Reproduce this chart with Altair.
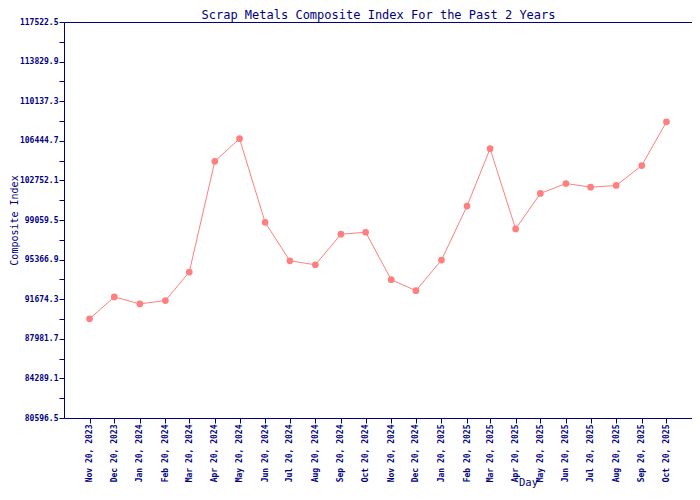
import altair as alt
import pandas as pd

dates = [
    "2023-11-20", "2023-12-20", "2024-01-20", "2024-02-20", "2024-03-20", "2024-04-20",
    "2024-05-20", "2024-06-20", "2024-07-20", "2024-08-20", "2024-09-20", "2024-10-20",
    "2024-11-20", "2024-12-20", "2025-01-20", "2025-02-20", "2025-03-20", "2025-04-20",
    "2025-05-20", "2025-06-20", "2025-07-20", "2025-08-20", "2025-09-20", "2025-10-20",
]
index_values = [
    89846, 91888, 91238, 91545, 94207, 104534,
    106640, 98846, 95256, 94885, 97733, 97918,
    93493, 92472, 95320, 100358, 105712, 98224,
    101536, 102464, 102121, 102279, 104135, 108217,
]
y_ticks = [80596.5, 84289.1, 87981.7, 91674.3, 95366.9, 99059.5,
           102752.1, 106444.7, 110137.3, 113829.9, 117522.5]
x_domain = ["2023-10-20", "2025-11-20"]
chart_title = "Scrap Metals Composite Index For the Past 2 Years"

NAVY = "#000080"
LINE = "#FF7F7F"
MONO = "DejaVu Sans Mono"

# major ticks plus the minor ticks halfway between them
y_all = []
for i, v in enumerate(y_ticks):
    y_all.append(v)
    if i < len(y_ticks) - 1:
        y_all.append(round((v + y_ticks[i + 1]) / 2, 2))
major_str = ",".join(str(v) for v in y_ticks)

def ms(d):
    return int(pd.Timestamp(d, tz="UTC").value // 10**6)

df = pd.DataFrame({"date": [ms(d) for d in dates], "value": index_values})

W, H = 628, 396
x_scale = alt.Scale(type="utc", domain=[ms(d) for d in x_domain])
y_scale = alt.Scale(domain=[y_ticks[0], y_ticks[-1]], nice=False, zero=False)

x_enc = alt.X(
    "date:T",
    scale=x_scale,
    axis=alt.Axis(
        orient="bottom",
        values=[ms(d) for d in dates],
        labelExpr="utcFormat(datum.value, '%b %d, %Y')",
        labelAngle=270,
        labelFont=MONO, labelFontSize=8, labelFontWeight="bold", labelColor=NAVY,
        labelPadding=1, labelOverlap=False, labelFlush=False,
        tickColor=NAVY, tickSize=5, domainColor=NAVY, grid=False,
        title="Day", titleFont=MONO, titleFontSize=10.5, titleFontWeight="normal",
        titleColor=NAVY, titleX=464, titleY=67, titleAlign="center",
        titleBaseline="alphabetic",
    ),
)
y_enc = alt.Y(
    "value:Q",
    scale=y_scale,
    axis=alt.Axis(
        orient="left",
        values=y_all,
        labelExpr="indexof([" + major_str + "], datum.value) >= 0 ? format(datum.value, '.1f') : ''",
        labelFont=MONO, labelFontSize=8, labelFontWeight="bold", labelColor=NAVY,
        labelPadding=1, labelOverlap=False, labelFlush=False,
        tickColor=NAVY, tickSize=5, domainColor=NAVY, grid=False,
        title="Composite Index", titleFont=MONO, titleFontSize=10,
        titleFontWeight="normal", titleColor=NAVY, titlePadding=0,
    ),
)

series = alt.Chart(df).mark_line(
    color=LINE, strokeWidth=1,
    point=alt.OverlayMarkDef(shape="circle", filled=True, color=LINE, size=45, opacity=1),
).encode(x=x_enc, y=y_enc)

# top and right frame lines drawn as bare axis domains; the top axis carries the chart title
frame = alt.Chart(df).mark_point(opacity=0).encode(
    x=alt.X("date:T", scale=x_scale,
            axis=alt.Axis(orient="top", labels=False, ticks=False, grid=False,
                          domainColor=NAVY, title=chart_title, titleFont=MONO,
                          titleFontSize=12, titleFontWeight="normal", titleColor=NAVY,
                          titleX=W / 2, titleY=-4, titleAlign="center",
                          titleBaseline="alphabetic")),
    y=alt.Y("value:Q", scale=y_scale,
            axis=alt.Axis(orient="right", labels=False, ticks=False, title=None,
                          grid=False, domainColor=NAVY)),
)

chart = (
    alt.layer(series, frame)
    .resolve_axis(x="independent", y="independent")
    .properties(
        width=W,
        height=H,
        autosize=alt.AutoSizeParams(type="none"),
        padding={"left": 56, "top": 14, "right": 0, "bottom": 70},
    )
    .configure_view(stroke=None)
    .configure(background="white")
)

chart.save("out.html", embed_options={"renderer": "svg", "actions": False})
